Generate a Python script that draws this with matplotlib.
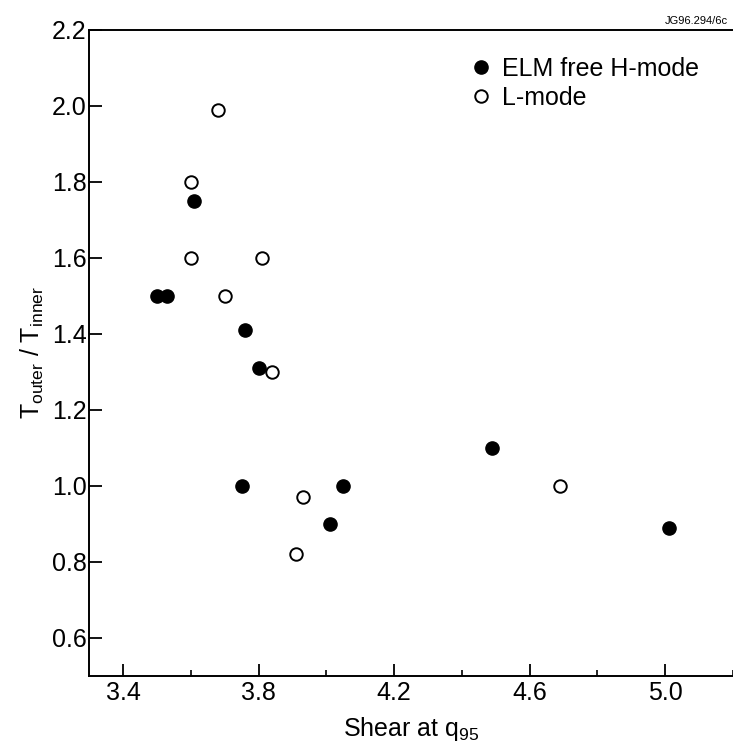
import matplotlib
matplotlib.use("Agg")
import matplotlib.pyplot as plt
from matplotlib.ticker import MultipleLocator

plt.rcParams['font.family'] = ['Liberation Sans', 'DejaVu Sans']
plt.rcParams['mathtext.fontset'] = 'custom'
plt.rcParams['mathtext.rm'] = 'Liberation Sans'
plt.rcParams['mathtext.it'] = 'Liberation Sans'

# ELM free H-mode (filled)
h_shear = [3.50, 3.53, 3.61, 3.76, 3.80, 3.75, 4.05, 4.01, 4.49, 5.01]
h_ratio = [1.50, 1.50, 1.75, 1.41, 1.31, 1.00, 1.00, 0.90, 1.10, 0.89]
# L-mode (open)
l_shear = [3.68, 3.60, 3.60, 3.81, 3.70, 3.84, 3.93, 3.91, 4.69]
l_ratio = [1.99, 1.80, 1.60, 1.60, 1.50, 1.30, 0.97, 0.82, 1.00]

x_ticks = [3.4, 3.8, 4.2, 4.6, 5.0]
y_ticks = [0.6, 0.8, 1.0, 1.2, 1.4, 1.6, 1.8, 2.0, 2.2]

fig = plt.figure(figsize=(7.33, 7.48), dpi=100)
ax = fig.add_axes([0.1218, 0.0967, 0.8782, 0.8633])

ax.plot(h_shear, h_ratio, 'o', color='black', markersize=9.5, linestyle='none',
        label='ELM free H-mode')
ax.plot(l_shear, l_ratio, 'o', markerfacecolor='white', markeredgecolor='black',
        markeredgewidth=1.4, markersize=9, linestyle='none', label='L-mode')

ax.set_xlim(3.3, 5.2)
ax.set_ylim(0.5, 2.2)
ax.set_xticks(x_ticks)
ax.set_xticklabels([f"{v:.1f}" for v in x_ticks])
ax.set_yticks(y_ticks)
ax.set_yticklabels([f"{v:.1f}" for v in y_ticks])
ax.xaxis.set_minor_locator(MultipleLocator(0.2))

ax.tick_params(axis='both', which='major', direction='in', length=9, width=1.3,
               labelsize=18, colors='black')
ax.tick_params(axis='x', which='major', pad=4)
ax.tick_params(axis='y', which='major', pad=2)
ax.tick_params(axis='x', which='minor', direction='in', length=4.5, width=1.2)
ax.tick_params(top=False, right=False)

for s in ['left', 'bottom', 'top']:
    ax.spines[s].set_linewidth(1.4)
ax.spines['right'].set_visible(False)

ax.set_xlabel(r"Shear at $\mathregular{q_{95}}$", fontsize=18, labelpad=7)
ax.set_ylabel(r"T$_{\mathregular{outer}}$ / T$_{\mathregular{inner}}$", fontsize=18, labelpad=4)

leg = ax.legend(loc='upper left', bbox_to_anchor=(0.595, 0.958), frameon=False,
                fontsize=18, handlelength=0.7, handletextpad=0.5, labelspacing=0.18,
                borderaxespad=0, borderpad=0)

fig.text(0.993, 0.972, "JG96.294/6c", fontsize=8, ha='right', va='center')

fig.savefig("out.png", dpi=100)
